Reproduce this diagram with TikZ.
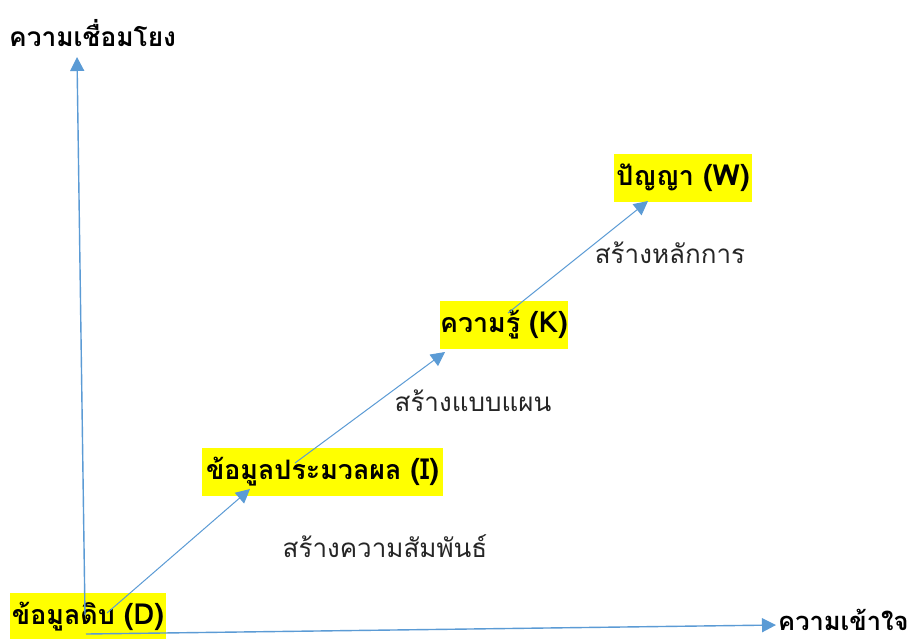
\documentclass[tikz,border=0pt]{standalone}
\usepackage{fontspec}
\newfontfamily\thaifont[Script=Thai]{Loma}
\usetikzlibrary{arrows.meta}
\definecolor{axisblue}{HTML}{5B9BD5}
\definecolor{hl}{HTML}{FFFF00}
\definecolor{txtgray}{HTML}{262626}
\newcommand{\latpart}[1]{{\fontsize{29}{32}\selectfont #1}}
\begin{document}
\begin{tikzpicture}[x=1pt,y=-1pt,
  hlbox/.style={fill=hl, inner sep=0pt, font=\thaifont\bfseries\fontsize{26.8}{30}\selectfont, minimum height=48pt, anchor=center},
  axlbl/.style={inner sep=0pt, font=\thaifont\bfseries\fontsize{26.3}{30}\selectfont},
  lbl/.style={inner sep=0pt, text=txtgray, font=\thaifont\fontsize{26}{30}\selectfont},
  axisarrow/.style={draw=axisblue, line width=1.4pt, -{Triangle[length=14pt,width=14pt]}},
  steparrow/.style={draw=axisblue, line width=1pt, -{Triangle[length=14pt,width=14pt]}}]
\useasboundingbox (0,0) rectangle (912,638);
\fill[white] (0,0) rectangle (912,638);
% highlighted stages
\node[hlbox, minimum width=156pt] (D) at (88,617) {ข้อมูลดิบ \latpart{(D)}};
\node[hlbox, minimum width=241pt] (I) at (322.5,471.5) {ข้อมูลประมวลผล \latpart{(I)}};
\node[hlbox, minimum width=128pt] (K) at (504,324.5) {ความรู้ \latpart{(K)}};
\node[hlbox, minimum width=138pt] (W) at (683,177.5) {ปัญญา \latpart{(W)}};
% axis labels
\node[axlbl, anchor=west] (ylab) at (9,33) {ความเชื่อมโยง};
\node[axlbl, anchor=base west, font=\thaifont\bfseries\fontsize{25.5}{29}\selectfont] (xlab) at (778,630) {ความเข้าใจ};
% step labels
\node[lbl] (s1) at (385,546) {สร้างความสัมพันธ์};
\node[lbl] (s2) at (473,401) {สร้างแบบแผน};
\node[lbl] (s3) at (670,253) {สร้างหลักการ};
% connector end points
\coordinate (vb) at (85,615);
\coordinate (vt) at (77,57);
\coordinate (hb) at (86,634);
\coordinate (ht) at (776,625);
\coordinate (d1) at (107,613);
\coordinate (i0) at (250,489);
\coordinate (i1) at (295,463);
\coordinate (k0) at (445,352);
\coordinate (k1) at (508,313);
\coordinate (w0) at (648,201);
% axes
\draw[axisarrow] (vb) -- (vt);
\draw[axisarrow] (hb) -- (ht);
% steps
\draw[steparrow] (d1) -- (i0);
\draw[steparrow] (i1) -- (k0);
\draw[steparrow] (k1) -- (w0);
\end{tikzpicture}
\end{document}
